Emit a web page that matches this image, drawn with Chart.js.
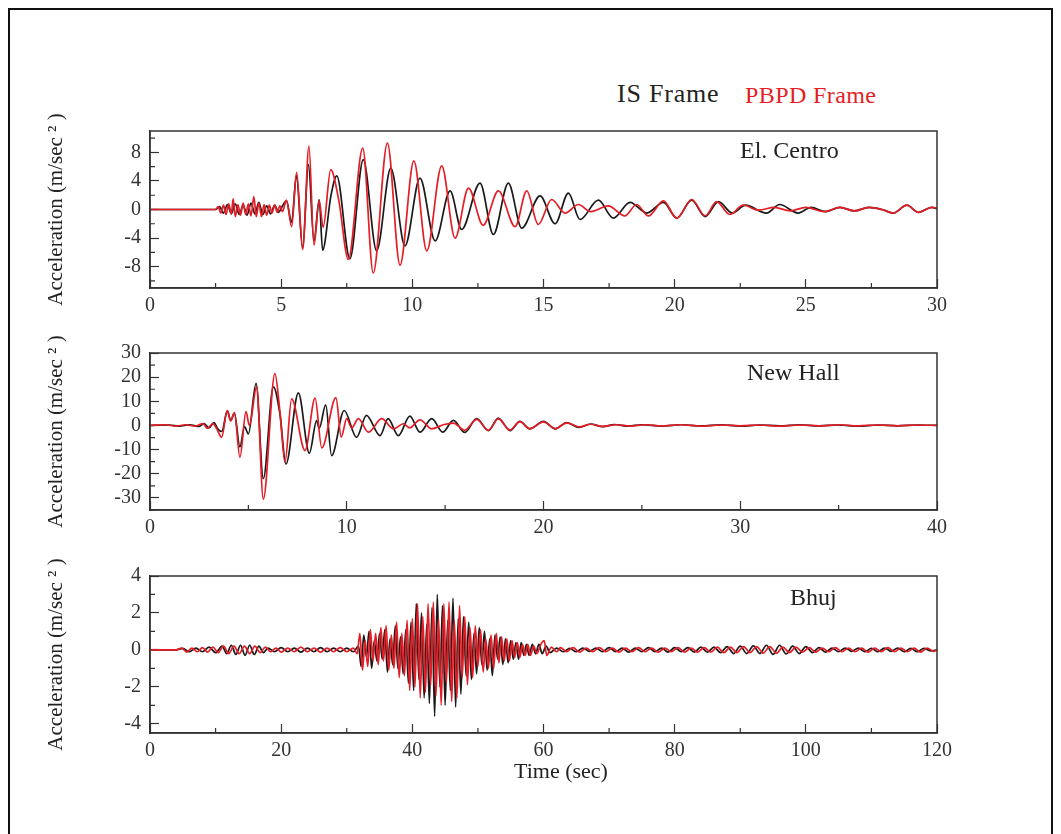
<!DOCTYPE html>
<html>
<head>
<meta charset="utf-8">
<script src="https://cdn.jsdelivr.net/npm/chart.js@4.4.1/dist/chart.umd.min.js"></script>
<style>
  html, body { margin: 0; padding: 0; background: #fff; width: 1061px; height: 834px; overflow: hidden; }
  .frame { position: absolute; left: 8px; top: 8px; width: 1045px; height: 840px; border: 2px solid #111; box-sizing: border-box; }
  canvas { position: absolute; left: 0; }
  .txt { position: absolute; font-family: "Liberation Serif", serif; white-space: nowrap; }
</style>
</head>
<body>
<div class="frame"></div>
<div class="txt" style="left:617px; top:81px; font-size:26px; line-height:26px; color:#222; letter-spacing:0.8px;">IS Frame</div>
<div class="txt" style="left:745px; top:83px; font-size:24px; line-height:24px; color:#e41e26; letter-spacing:0.4px;">PBPD Frame</div>
<canvas id="elCentro" width="1061" height="220" style="top:100px"></canvas>
<canvas id="newHall" width="1061" height="220" style="top:322px"></canvas>
<canvas id="bhuj" width="1061" height="220" style="top:545px"></canvas>
<div class="txt" style="left:514px; top:760px; font-size:22px; line-height:22px; color:#222;">Time (sec)</div>
<script>
/* ===============================
   Data: [time (s), acceleration (m/s^2)]
================================ */
const seriesNames = ["IS Frame", "PBPD Frame"];

// El. Centro
const elCentroIS = [[0,0],[2.5,0],[2.65,0.4],[2.8,-0.5],[2.95,0.7],[3.1,-0.6],[3.25,0.8],[3.4,-0.7],[3.55,0.6],[3.7,-0.8],[3.85,0.9],[4.0,-0.6],[4.15,1.0],[4.3,-0.7],[4.45,0.5],[4.6,-0.6],[4.75,0.6],[4.9,-0.4],[5.05,0.5],[5.2,1.2],[5.4,-1.8],[5.58,4.8],[5.82,-5.4],[6.04,6.3],[6.25,-4.4],[6.45,1.4],[6.58,-5.7],[6.9,2.0],[7.12,4.7],[7.62,-6.9],[8.13,7.0],[8.64,-5.8],[9.18,5.8],[9.72,-5.1],[10.29,4.4],[10.87,-4.4],[11.44,2.6],[11.88,-2.8],[12.58,3.7],[13.09,-3.5],[13.66,3.7],[14.17,-2.6],[14.87,1.9],[15.44,-2.0],[15.95,2.3],[16.39,-1.4],[17.09,1.3],[17.66,-1.2],[18.3,1.0],[18.94,-0.5],[19.57,1.0],[20.08,-1.2],[20.65,1.3],[21.16,-1.0],[21.67,1.1],[22.2,-0.5],[22.7,0.6],[23.5,-0.5],[24.0,0.7],[24.7,-0.5],[25.2,0.3],[25.75,-0.3],[26.3,0.3],[26.85,-0.2],[27.4,0.3],[27.9,0.0],[28.34,-0.5],[28.85,0.6],[29.3,-0.4],[29.8,0.3],[30,0.1]];
const elCentroPBPD = [[0,0],[2.5,0],[2.6,0.4],[2.7,-0.5],[2.8,0.6],[2.9,-0.7],[3.0,0.8],[3.1,-0.6],[3.17,1.5],[3.25,-1.0],[3.35,0.7],[3.45,-0.8],[3.55,0.9],[3.65,-0.7],[3.75,0.8],[3.85,-0.9],[3.96,1.8],[4.05,-1.0],[4.15,0.9],[4.25,-1.0],[4.35,0.7],[4.45,-0.8],[4.55,0.6],[4.65,-0.5],[4.75,0.6],[4.85,-0.4],[4.95,0.5],[5.05,-0.3],[5.2,1.3],[5.4,-2.4],[5.59,5.2],[5.82,-5.6],[6.06,8.9],[6.25,-5.0],[6.45,1.2],[6.6,-2.5],[6.89,5.6],[7.2,1.2],[7.56,-7.0],[8.11,8.6],[8.51,-8.9],[9.05,9.3],[9.53,-7.8],[10.06,6.8],[10.55,-5.8],[11.12,6.1],[11.63,-4.0],[12.14,3.0],[12.7,-2.2],[13.28,2.6],[13.92,-2.4],[14.36,2.6],[14.8,-2.1],[15.31,1.4],[15.82,-0.5],[16.33,0.7],[16.8,-0.3],[17.47,0.5],[18.1,-0.9],[18.55,0.7],[19.0,-0.9],[19.57,1.2],[20.08,-1.2],[20.65,1.4],[21.16,-0.9],[21.6,1.1],[22.1,-0.7],[22.62,0.6],[23.2,-0.1],[23.8,0.3],[24.4,-0.2],[25.0,0.3],[25.7,-0.3],[26.3,0.3],[26.85,-0.2],[27.4,0.3],[27.9,0.0],[28.34,-0.5],[28.85,0.6],[29.3,-0.4],[29.8,0.3],[30,0.2]];
const elCentroXTicks = [0, 5, 10, 15, 20, 25, 30];
const elCentroYTicks = [-8, -4, 0, 4, 8];

// New Hall
const newHallIS = [[0,0],[1,0.2],[1.5,-0.3],[2,0.3],[2.5,-0.4],[2.75,0.8],[3.0,-1.0],[3.25,1.2],[3.45,-1.5],[3.65,-2.5],[3.93,6.0],[4.1,2.0],[4.29,5.0],[4.57,-8.9],[4.8,-0.5],[5.0,-3.5],[5.39,17.4],[5.76,-22],[6.27,16],[6.6,5],[6.91,-16],[7.54,13.5],[8.1,-11.5],[8.47,2],[8.6,-1.2],[8.93,8.5],[9.23,-12.5],[9.87,6.2],[10.5,-4.9],[11.0,4.2],[11.69,-4.2],[12.1,2.8],[12.62,-4.2],[13.21,3.9],[13.72,-2.8],[14.32,2.8],[14.88,-2.8],[15.42,2.1],[16.0,-2.9],[16.6,2.8],[17.2,-2.1],[17.7,3.0],[18.3,-2.1],[18.8,1.7],[19.3,-1.4],[20.0,1.7],[20.6,-1.4],[21.18,1.2],[21.8,-0.8],[22.4,0.6],[23.0,-0.5],[23.6,0.4],[24.3,-0.3],[25,0.3],[26,-0.3],[27,0.3],[28,-0.2],[29,0.3],[30,-0.3],[31,0.2],[32,-0.2],[33,0.3],[34,-0.2],[35,0.2],[36,-0.3],[37,0.2],[38,-0.2],[39,0.2],[40,0]];
const newHallPBPD = [[0,0],[0.8,0.3],[1.3,-0.3],[1.8,0.3],[2.3,-0.3],[2.7,0.8],[2.9,-1.2],[3.2,0.8],[3.4,-1.5],[3.64,-4.9],[3.93,6.2],[4.1,2.0],[4.29,5.3],[4.57,-13.2],[4.88,5.7],[5.05,0],[5.42,16],[5.76,-30.5],[6.35,21.5],[6.6,6],[6.86,-15.3],[7.2,11],[7.88,-10.4],[8.39,11.3],[8.73,-9.3],[9.45,11.5],[9.72,-4.8],[10.0,2.8],[10.25,-1.0],[10.59,2.8],[11.1,-2.8],[11.78,2.8],[12.37,-1.4],[12.88,0.7],[13.2,-1.0],[13.72,2.3],[14.32,-1.4],[14.9,0.3],[15.42,1.0],[16.0,-2.0],[16.6,2.5],[17.2,-2.0],[17.7,2.7],[18.3,-1.9],[18.8,1.6],[19.3,-1.3],[20.0,1.5],[20.6,-1.3],[21.18,1.1],[21.8,-0.6],[22.4,0.5],[23.0,-0.4],[23.7,0.3],[24.4,-0.3],[25.2,0.3],[26,-0.2],[27,0.3],[28,-0.3],[29,0.2],[30,-0.2],[31,0.2],[32,-0.3],[33,0.2],[34,-0.2],[35,0.3],[36,-0.2],[37,0.2],[38,-0.2],[39,0.2],[40,0]];
const newHallXTicks = [0, 10, 20, 30, 40];
const newHallYTicks = [-30, -20, -10, 0, 10, 20, 30];

// Bhuj
const bhujIS = [[0,0],[4,0],[5,0.08],[6,-0.1],[7,0.1],[8,-0.1],[9,0.15],[10,-0.15],[11,0.2],[11.7,-0.2],[12.4,0.25],[13.1,-0.25],[13.8,0.25],[14.5,-0.3],[15.2,0.25],[15.9,-0.25],[16.6,0.2],[17.3,-0.15],[18,0.1],[19,-0.1],[20,0.12],[21,-0.1],[22,0.1],[23,-0.12],[24,0.1],[25,-0.1],[26,0.12],[27,-0.1],[28,0.1],[29,-0.1],[30,0.1],[31,-0.1],[31.8,0.2],
  [32.2,-0.9],[32.6,0.8],[33.0,-0.4],[33.4,1.0],[33.8,-1.0],[34.2,0.5],[34.6,-0.6],[35.0,0.9],[35.4,-0.5],[35.8,1.1],[36.2,-1.2],[36.6,0.6],[37.0,-0.8],[37.4,1.3],[37.8,-1.0],[38.2,0.7],[38.6,-1.3],[39.0,1.1],[39.4,-1.8],[39.8,1.5],[40.2,-2.2],[40.6,2.5],[41.0,-1.6],[41.4,2.0],[41.8,-2.6],[42.2,1.4],[42.6,-2.9],[43.0,2.3],[43.4,-3.6],[43.8,3.0],[44.2,-2.0],[44.6,2.4],[45.0,-3.0],[45.4,1.6],[45.8,-2.2],[46.2,2.8],[46.6,-3.1],[47.0,1.7],[47.4,-2.4],[47.8,1.8],[48.2,-1.4],[48.6,1.5],[49.0,-1.6],[49.4,0.9],[49.8,-1.3],[50.2,1.2],[50.6,-0.8],[51.0,1.0],[51.4,-1.1],[51.8,0.6],[52.2,-1.4],[52.6,0.8],[53.0,-0.5],[53.4,0.7],[53.8,-0.8],[54.2,0.6],[54.6,-0.7],[55.0,0.5],[55.4,-0.5],[55.8,0.4],[56.2,-0.5],[56.6,0.4],[57.0,-0.3],[57.4,0.3],[57.8,-0.3],[58.3,0.3],[58.8,-0.2],[59.3,0.3],[59.8,-0.2],[60.4,0.2],
  [61,-0.15],[62,0.1],[63,-0.1],[64,0.08],[65,-0.1],[66,0.1],[67,-0.08],[68,0.1],[69,-0.1],[70,0.12],[71,-0.1],[72,0.1],[73,-0.12],[74,0.1],[75,-0.1],[76,0.12],[77,-0.1],[78,0.1],[79,-0.12],[80,0.12],[81,-0.1],[82,0.12],[83,-0.12],[84,0.15],[85,-0.12],[86,0.15],[87,-0.15],[88,0.18],[89,-0.2],[90,0.2],[91,-0.2],[92,0.22],[93,-0.2],[94,0.25],[95,-0.25],[96,0.25],[97,-0.22],[98,0.2],[99,-0.2],[100,0.18],[101,-0.15],[102,0.12],[103,-0.12],[104,0.1],[105,-0.1],[106,0.1],[107,-0.08],[108,0.1],[109,-0.1],[110,0.08],[111,-0.1],[112,0.1],[113,-0.08],[114,0.1],[115,-0.1],[116,0.08],[117,-0.1],[118,0.08],[119,-0.05],[120,0]];
const bhujPBPD = [[0,0],[4,0],[4.8,0.1],[5.6,-0.12],[6.4,0.1],[7.2,-0.1],[8,0.12],[8.8,-0.12],[9.6,0.15],[10.4,-0.15],[11.2,0.2],[12,-0.2],[12.8,0.2],[13.6,-0.2],[14.4,0.2],[15.2,-0.2],[16,0.2],[16.8,-0.15],[17.6,0.15],[18.4,-0.1],[19.2,0.1],[20,-0.12],[21,0.1],[22,-0.1],[23,0.15],[24,-0.1],[25,0.1],[26,-0.12],[27,0.1],[28,-0.1],[29,0.12],[30,-0.1],[31,0.1],[31.6,-0.2],
  [32.0,0.9],[32.4,-1.1],[32.8,0.5],[33.2,-0.9],[33.6,1.1],[34.0,-0.6],[34.4,0.9],[34.8,-0.8],[35.2,1.2],[35.6,-0.6],[36.0,1.3],[36.4,-1.1],[36.8,0.8],[37.2,-1.0],[37.6,1.5],[38.0,-1.5],[38.4,0.9],[38.8,-1.4],[39.2,1.6],[39.6,-2.2],[40.0,1.7],[40.4,-2.0],[40.8,2.5],[41.2,-2.6],[41.6,1.8],[42.0,-2.3],[42.4,2.5],[42.8,-1.9],[43.2,2.6],[43.6,-2.5],[44.0,1.7],[44.4,-3.0],[44.8,2.5],[45.2,-1.8],[45.6,2.6],[46.0,-2.8],[46.4,1.6],[46.8,-2.6],[47.2,2.4],[47.6,-1.5],[48.0,1.8],[48.4,-1.9],[48.8,1.2],[49.2,-1.5],[49.6,1.3],[50.0,-0.9],[50.4,1.1],[50.8,-1.2],[51.2,0.6],[51.6,-1.0],[52.0,0.8],[52.4,-1.0],[52.8,0.9],[53.2,-0.7],[53.6,0.7],[54.0,-0.6],[54.4,0.6],[54.8,-0.6],[55.2,0.5],[55.6,-0.4],[56.0,0.4],[56.4,-0.4],[56.8,0.3],[57.2,-0.3],[57.6,0.3],[58.0,-0.3],[58.5,0.2],[59.0,-0.2],[59.6,0.3],[60.1,0.5],[60.5,-0.3],[61.2,0.15],
  [62,-0.1],[62.6,0.12],[63.5,-0.1],[64.5,0.12],[65.5,-0.12],[66.5,0.1],[67.5,-0.1],[68.5,0.12],[69.5,-0.1],[70.5,0.1],[71.5,-0.12],[72.5,0.1],[73.5,-0.1],[74.5,0.12],[75.5,-0.1],[76.5,0.1],[77.5,-0.12],[78.5,0.1],[79.5,-0.1],[80.5,0.12],[81.5,-0.12],[82.5,0.1],[83.5,-0.12],[84.5,0.12],[85.5,-0.12],[86.5,0.15],[87.5,-0.15],[88.5,0.15],[89.5,-0.15],[90.5,0.18],[91.5,-0.15],[92.5,0.18],[93.5,-0.18],[94.5,0.18],[95.5,-0.18],[96.5,0.15],[97.5,-0.15],[98.5,0.15],[99.5,-0.12],[100.5,0.12],[101.5,-0.12],[102.5,0.1],[103.5,-0.1],[104.5,0.12],[105.5,-0.1],[106.5,0.1],[107.5,-0.1],[108.5,0.1],[109.5,-0.12],[110.5,0.1],[111.5,-0.1],[112.5,0.12],[113.5,-0.1],[114.5,0.1],[115.5,-0.1],[116.5,0.1],[117.5,-0.12],[118.5,0.1],[119.5,-0.08],[120,0]];
const bhujXTicks = [0, 20, 40, 60, 80, 100, 120];
const bhujYTicks = [-4, -2, 0, 2, 4];

/* ===============================
   Frame, minor ticks and record name
================================ */
const panelDecor = {
  id: "panelDecor",
  afterDraw(chart, args, opts) {
    const { ctx, chartArea: a, scales } = chart;
    ctx.save();
    ctx.strokeStyle = "#333";
    ctx.lineWidth = 1.5;
    ctx.strokeRect(a.left, a.top, a.right - a.left, a.bottom - a.top);

    ctx.lineWidth = 1.2;
    ctx.beginPath();
    const minor = (scale, step, majors, draw) => {
      const start = Math.ceil(scale.min / step) * step;
      for (let v = start; v <= scale.max + 1e-9; v += step) {
        if (majors.some((m) => Math.abs(m - v) < 1e-6)) continue;
        draw(scale.getPixelForValue(v));
      }
    };
    minor(scales.x, opts.xMinor, opts.xMajor, (px) => {
      ctx.moveTo(px, a.bottom);
      ctx.lineTo(px, a.bottom - 5);
    });
    minor(scales.y, opts.yMinor, opts.yMajor, (py) => {
      ctx.moveTo(a.left, py);
      ctx.lineTo(a.left + 5, py);
    });
    ctx.stroke();

    ctx.font = '24px "Liberation Serif"';
    ctx.fillStyle = "#222";
    ctx.textBaseline = "middle";
    ctx.fillText(opts.label, a.left + opts.dx, a.top + opts.dy);
    ctx.restore();
  },
};

const tickFont = { family: "Liberation Serif", size: 20 };

function makePanel(id, isData, pbData, xTicks, yTicks, xRange, yRange, decor) {
  const ctx = document.getElementById(id);
  new Chart(ctx, {
    type: "line",
    data: {
      datasets: [
        {
          label: seriesNames[1],
          data: pbData.map((p) => ({ x: p[0], y: p[1] })),
          borderColor: "#e41e26",
          borderWidth: 1.7,
          pointRadius: 0,
          cubicInterpolationMode: "monotone",
        },
        {
          label: seriesNames[0],
          data: isData.map((p) => ({ x: p[0], y: p[1] })),
          borderColor: "#1a1a1a",
          borderWidth: 1.7,
          pointRadius: 0,
          cubicInterpolationMode: "monotone",
        },
      ],
    },
    options: {
      responsive: false,
      animation: false,
      layout: { padding: { top: 31, bottom: 2, left: 0, right: 124 } },
      plugins: {
        legend: { display: false },
        tooltip: { enabled: false },
        panelDecor: decor,
      },
      scales: {
        x: {
          type: "linear",
          min: xRange[0],
          max: xRange[1],
          afterBuildTicks: (s) => { s.ticks = xTicks.map((v) => ({ value: v })); },
          afterFit: (s) => { s.height = 30; },
          ticks: { font: tickFont, color: "#333", padding: 15, maxRotation: 0, autoSkip: false },
          grid: { drawOnChartArea: false, tickLength: -9, tickColor: "#333", tickWidth: 1.2 },
          border: { color: "#333", width: 1.5 },
        },
        y: {
          min: yRange[0],
          max: yRange[1],
          afterBuildTicks: (s) => { s.ticks = yTicks.map((v) => ({ value: v })); },
          afterFit: (s) => { s.width = 150; },
          ticks: { font: tickFont, color: "#333", padding: 18, autoSkip: false },
          grid: { drawOnChartArea: false, tickLength: -9, tickColor: "#333", tickWidth: 1.2 },
          border: { color: "#333", width: 1.5 },
          title: {
            display: true,
            text: "Acceleration (m/sec ² )",
            font: { family: "Liberation Serif", size: 21 },
            color: "#222",
            padding: { top: 44, bottom: 0 },
          },
        },
      },
    },
    plugins: [panelDecor],
  });
}

makePanel("elCentro", elCentroIS, elCentroPBPD, elCentroXTicks, elCentroYTicks, [0, 30], [-11, 11],
  { label: "El. Centro", dx: 590, dy: 21, xMinor: 2.5, xMajor: elCentroXTicks, yMinor: 2, yMajor: elCentroYTicks });
makePanel("newHall", newHallIS, newHallPBPD, newHallXTicks, newHallYTicks, [0, 40], [-35, 30],
  { label: "New Hall", dx: 597, dy: 21, xMinor: 5, xMajor: newHallXTicks, yMinor: 5, yMajor: newHallYTicks });
makePanel("bhuj", bhujIS, bhujPBPD, bhujXTicks, bhujYTicks, [0, 120], [-4.5, 4],
  { label: "Bhuj", dx: 640, dy: 23, xMinor: 10, xMajor: bhujXTicks, yMinor: 1, yMajor: bhujYTicks });
</script>
</body>
</html>
